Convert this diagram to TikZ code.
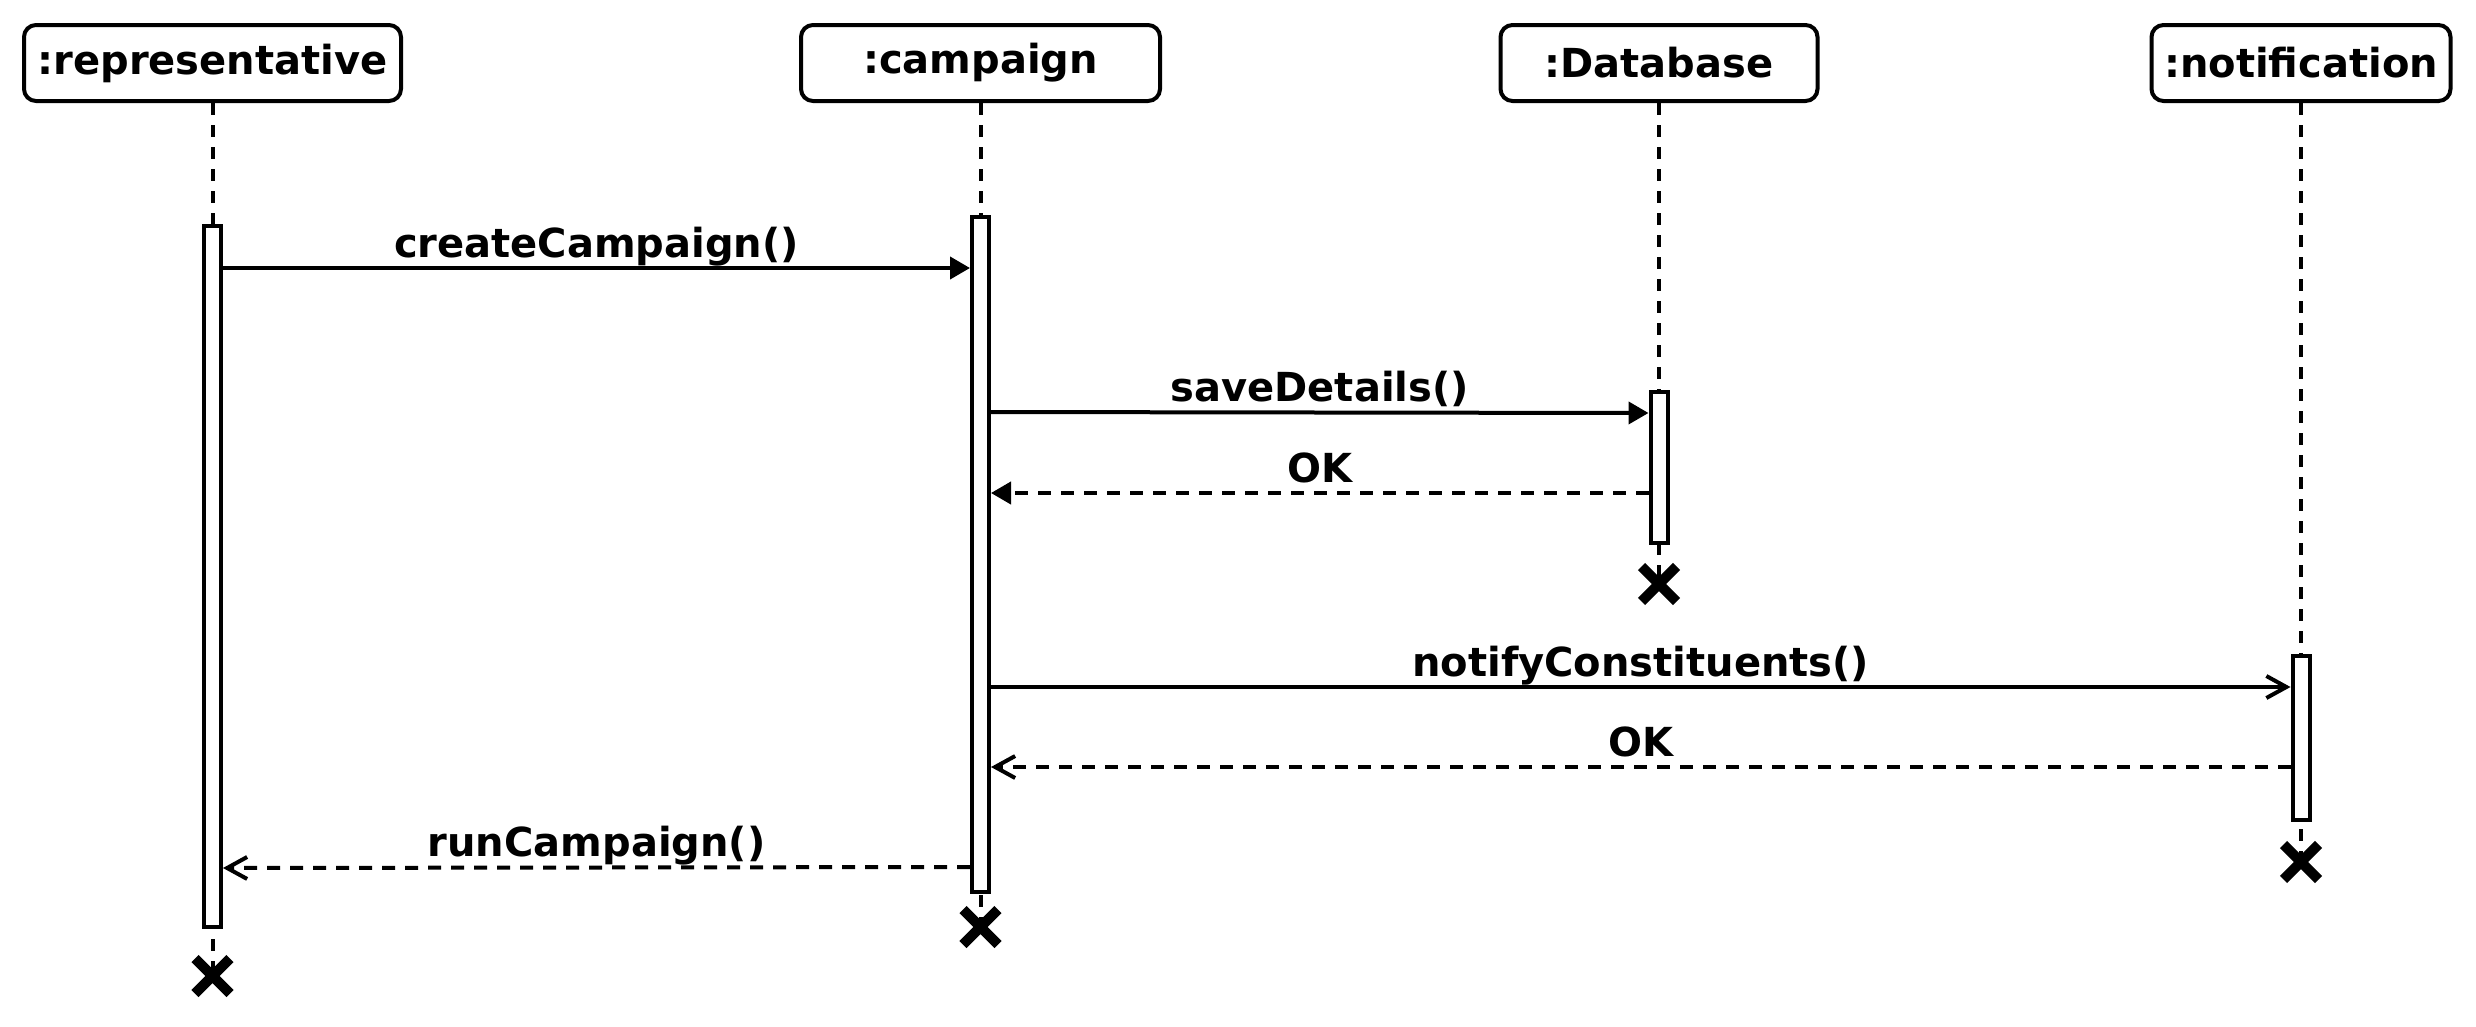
\documentclass[tikz,border=0pt]{standalone}
\usepackage{fontspec}
\setmainfont{DejaVu Sans}
\usetikzlibrary{arrows.meta,shapes.misc}

\begin{document}
\begin{tikzpicture}[x=1pt,y=-1pt,
  font=\fontsize{40}{48}\selectfont\bfseries,
  head/.style={draw,rounded corners=12pt,line width=4pt,minimum height=76pt,inner sep=0pt},
  act/.style={draw,fill=white,line width=4pt,minimum width=17pt,inner sep=0pt,anchor=north},
  life/.style={line width=4pt,dash pattern=on 12pt off 10pt},
  kill/.style={draw,cross out,line width=10pt,minimum size=25pt,inner sep=0pt},
  call/.style={line width=4pt,-{Triangle[length=20pt,width=22pt]}},
  back/.style={line width=4pt,dash pattern=on 13pt off 10pt,-{Triangle[length=20pt,width=22pt]}},
  async/.style={line width=4pt,-{Straight Barb[length=20pt,width=22pt]}},
  reply/.style={line width=4pt,dash pattern=on 13pt off 10pt,-{Straight Barb[length=20pt,width=22pt]}},
  lbl/.style={midway,anchor=base,yshift=11pt,inner sep=0pt}]
\useasboundingbox (0,0) rectangle (2476,1026);
\node[head,minimum width=377pt] (rep) at (212.5,63) {:representative};
\node[head,minimum width=359pt] (camp) at (980.5,63) {:campaign};
\node[head,minimum width=317pt] (db) at (1659,63) {:Database};
\node[head,minimum width=299pt] (note) at (2301,63) {:notification};
\coordinate (repend) at (212.5,976);
\coordinate (campend) at (980.5,927);
\coordinate (dbend) at (1659,584);
\coordinate (noteend) at (2301,862);
\draw[life] (rep.south) -- (repend);
\draw[life] (camp.south) -- (campend);
\draw[life] (db.south) -- (dbend);
\draw[life] (note.south) -- (noteend);
\node[act,minimum height=701pt] (ra) at (212.5,224) {};
\node[act,minimum height=675pt] (ca) at (980.5,215) {};
\node[act,minimum height=151pt] (da) at (1659,390) {};
\node[act,minimum height=164pt] (na) at (2301,654) {};
\node[kill] (repx) at (repend) {};
\node[kill] (campx) at (campend) {};
\node[kill] (dbx) at (dbend) {};
\node[kill] (notex) at (noteend) {};
\draw[call] (ra.east |- 0,268) -- node[lbl] {createCampaign()} (ca.west |- 0,268);
\draw[call] (ca.east |- 0,412) -- node[lbl] {saveDetails()} (da.west |- 0,413);
\draw[back] (da.west |- 0,493) -- node[lbl] {OK} (ca.east |- 0,493);
\draw[async] (ca.east |- 0,687) -- node[lbl] {notifyConstituents()} (na.west |- 0,687);
\draw[reply] (na.west |- 0,767) -- node[lbl] {OK} (ca.east |- 0,767);
\draw[reply] (ca.west |- 0,867) -- node[lbl] {runCampaign()} (ra.east |- 0,868);
\end{tikzpicture}
\end{document}
